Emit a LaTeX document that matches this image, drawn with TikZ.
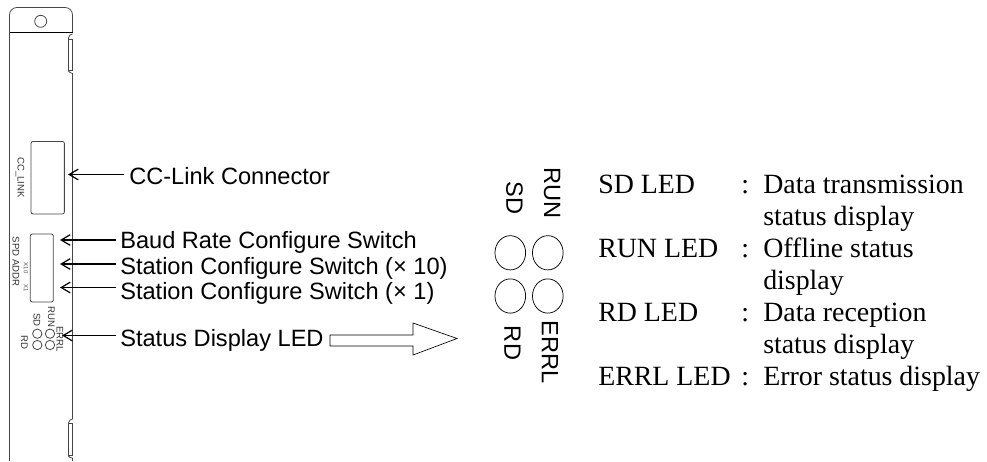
\documentclass[tikz,border=0pt]{standalone}
\usepackage{fontspec}
\setmainfont{Liberation Serif}
\setsansfont{Liberation Sans}
\usetikzlibrary{arrows.meta,positioning,calc,shapes.geometric}
\definecolor{panelgray}{RGB}{70,70,70}

\begin{document}
\begin{tikzpicture}[
  x=.75pt, y=-.75pt,
  panel/.style={draw=panelgray,line width=.6pt},
  callout/.style={font=\sffamily\fontsize{17.7}{20}\selectfont,anchor=base west,inner xsep=3pt,inner ysep=0pt},
  ledtext/.style={font=\sffamily\fontsize{17.7}{20}\selectfont,rotate=-90,inner sep=0pt},
  tinytext/.style={font=\sffamily\fontsize{7.2}{8}\selectfont,rotate=-90,inner sep=0pt,text=black!80},
  microtext/.style={font=\sffamily\fontsize{4.5}{5}\selectfont,rotate=-90,inner sep=0pt,text=black!70},
  desc/.style={font=\fontsize{20.9}{24}\selectfont,anchor=base west,inner sep=0pt},
  led/.style={draw=black,line width=.55pt,ellipse,minimum width=23pt,minimum height=25.7pt,inner sep=0pt},
  smallled/.style={panel,circle,minimum size=7pt,inner sep=0pt},
  arr/.style={-{Straight Barb[length=6.8pt,width=8pt,line width=.9pt]},line width=1.4pt,draw=black}
]
\useasboundingbox (0,0) rectangle (987,461);

% module outline
\draw[panel,rounded corners=5.5pt] (9.5,461) -- (9.5,7.5) -- (72.5,7.5) [sharp corners] -- (72.5,32);
\draw[panel] (72.5,34) -- (70,35) -- (68.5,38) -- (68.5,71) -- (70,72.5) -- (72.5,73.5) -- (72.5,419)
  -- (70,420) -- (68.5,423) -- (68.5,456) -- (70,457.5) -- (72.5,458) -- (72.5,461);
\draw[line width=.75pt] (9.5,32.5) -- (72.5,32.5);
\draw[panel] (68.5,39) rectangle (72.5,70);
\draw[panel] (68.5,423) rectangle (72.5,455);
\node[panel,circle,minimum size=9pt,inner sep=0pt] (hole) at (40.7,21.3) {};

% connector and switches
\node[panel,rounded corners=1.5pt,minimum width=25pt,minimum height=54.4pt,inner sep=0pt] (ccbox) at (47.7,177.7) {};
\node[panel,rounded corners=1.5pt,minimum width=17.25pt,minimum height=51pt,inner sep=0pt] (swbox) at (41.8,268) {};
\node[tinytext] (cclink) at (20,177.5) {CC\_LINK};
\node[tinytext] (spdaddr) at (16,261.5) {SPD ADDR};
\node[microtext] (xten) at (26,268) {X10};
\node[microtext] (xone) at (26,288.5) {X1};

% small status lamps
\node[smallled] (runsmall) at (50,333.7) {};
\node[smallled] (errsmall) at (50,345) {};
\node[smallled] (sdsmall) at (37.3,333.7) {};
\node[smallled] (rdsmall) at (37.3,345) {};
\node[tinytext] (runtiny) at (51.5,317) {RUN};
\node[tinytext] (sdtiny) at (37,320) {SD};
\node[tinytext] (rdtiny) at (24.5,342) {RD};
\node[tinytext] (errtiny) at (60,339) {ERRL};

% callouts
\coordinate (cctip) at (68,174.5);
\coordinate (baudtip) at (60,240);
\coordinate (xtentip) at (60,264);
\coordinate (xonetip) at (60,287.5);
\coordinate (ledtip) at (62,335.5);
\node[callout,inner xsep=3.75pt] (cclabel) at (124,184) {CC-Link Connector};
\node[callout] (baudlabel) at (116,248) {Baud Rate Configure Switch};
\node[callout] (xtenlabel) at (116,274) {Station Configure Switch (× 10)};
\node[callout] (xonelabel) at (116,299) {Station Configure Switch (× 1)};
\node[callout] (ledlabel) at (116,346.5) {Status Display LED};
\draw[arr] (cclabel.west |- cctip) -- (cctip);
\draw[arr] (baudlabel.west |- baudtip) -- (baudtip);
\draw[arr] (xtenlabel.west |- xtentip) -- (xtentip);
\draw[arr] (xonelabel.west |- xonetip) -- (xonetip);
\draw[arr] (ledlabel.west |- ledtip) -- (ledtip);

% hollow arrow
\draw[line width=.5pt] (330,335) -- (413,335) -- (413,323) -- (457,338.5) -- (413,355) -- (413,346) -- (330,346) -- cycle;

% enlarged lamps
\node[led] (sdled) at (510.3,252.8) {};
\node[led] (runled) at (547.8,252.8) {};
\node[led] (rdled) at (510.3,296) {};
\node[led] (errled) at (547.8,296) {};
\node[ledtext] (sdname) at (514.5,198) {SD};
\node[ledtext] (runname) at (552,193) {RUN};
\node[ledtext] (rdname) at (512.5,343) {RD};
\node[ledtext] (errname) at (550,352) {ERRL};

% descriptions
\node[desc] (sdkey) at (598,193.5) {SD LED};
\node[desc] (sdcolon) at (741,193.5) {:};
\node[desc] (sdtext) at (763,193.5) {Data transmission};
\node[desc] (sdmore) at (763,225.5) {status display};
\node[desc] (runkey) at (598,257.5) {RUN LED};
\node[desc] (runcolon) at (741,257.5) {:};
\node[desc] (runtext) at (763,257.5) {Offline status};
\node[desc] (runmore) at (763,289.5) {display};
\node[desc] (rdkey) at (598,321.5) {RD LED};
\node[desc] (rdcolon) at (741,321.5) {:};
\node[desc] (rdtext) at (763,321.5) {Data reception};
\node[desc] (rdmore) at (763,353.5) {status display};
\node[desc] (errkey) at (598,385.5) {ERRL LED};
\node[desc] (errcolon) at (741,385.5) {:};
\node[desc] (errtext) at (763,385.5) {Error status display};
\end{tikzpicture}
\end{document}
